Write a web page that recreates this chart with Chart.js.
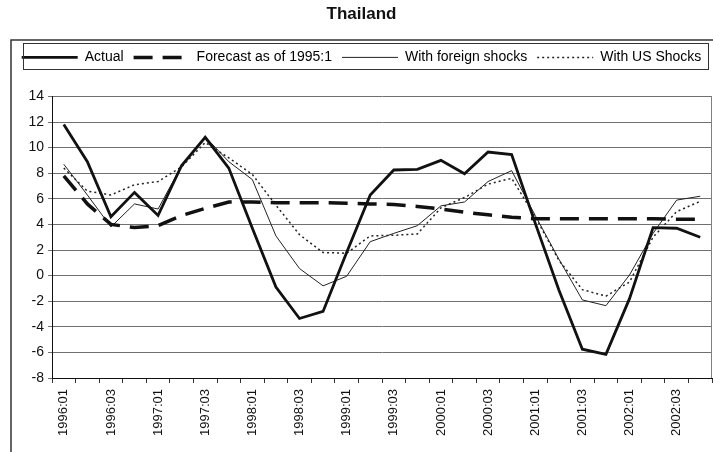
<!DOCTYPE html>
<html>
<head>
<meta charset="utf-8">
<script src="https://cdn.jsdelivr.net/npm/chart.js@4.4.1/dist/chart.umd.min.js"></script>
<style>
body { margin: 0; background: #fff; }
#wrap { width: 713px; height: 452px; position: relative; }
</style>
</head>
<body>
<div id="wrap"><canvas id="myChart"></canvas></div>
<script>
// quarters 1996:01 -> 2002:04
const quarters = [
    "1996:01", "1996:02", "1996:03", "1996:04",
    "1997:01", "1997:02", "1997:03", "1997:04",
    "1998:01", "1998:02", "1998:03", "1998:04",
    "1999:01", "1999:02", "1999:03", "1999:04",
    "2000:01", "2000:02", "2000:03", "2000:04",
    "2001:01", "2001:02", "2001:03", "2001:04",
    "2002:01", "2002:02", "2002:03", "2002:04"
];

const actual = [11.8, 8.9, 4.6, 6.5, 4.7, 8.6, 10.8, 8.4, 3.7, -0.9, -3.35, -2.8, 1.8, 6.3,
    8.25, 8.3, 9.0, 7.95, 9.65, 9.45, 4.1, -1.1, -5.75, -6.15, -1.8, 3.75, 3.7, 3.0];
const forecast = [7.8, 5.6, 4.0, 3.75, 3.9, 4.7, 5.25, 5.75, 5.75, 5.7, 5.7, 5.7, 5.65, 5.6,
    5.55, 5.4, 5.2, 4.95, 4.75, 4.55, 4.45, 4.45, 4.45, 4.45, 4.45, 4.45, 4.4, 4.4];
const foreignShocks = [8.7, 6.3, 3.8, 5.6, 5.2, 8.6, 10.85, 8.9, 7.5, 3.1, 0.55, -0.8, -0.05, 2.65,
    3.3, 3.9, 5.45, 5.75, 7.35, 8.2, 4.7, 1.3, -1.9, -2.35, 0.05, 3.3, 5.9, 6.2];
const usShocks = [8.4, 6.6, 6.3, 7.1, 7.35, 8.5, 10.4, 9.2, 7.9, 5.5, 3.2, 1.8, 1.75, 3.1,
    3.15, 3.25, 5.3, 6.1, 7.15, 7.6, 4.6, 1.2, -1.1, -1.6, -0.5, 3.0, 5.0, 5.8];

const seriesNames = ["Actual", "Forecast as of 1995:1", "With foreign shocks", "With US Shocks"];

Chart.defaults.font.family = "'Liberation Sans', Arial, sans-serif";
Chart.defaults.color = "#222";

// legend box, plot border, outer frame
const frame = {
    id: "frame",
    beforeInit(chart) {
        const fit = chart.legend.fit;
        chart.legend.fit = function () {
            fit.call(this);
            this.height += 22;
        };
    },
    afterDraw(chart) {
        const ctx = chart.ctx;
        const a = chart.chartArea;
        ctx.save();
        ctx.strokeStyle = "#808080";
        ctx.lineWidth = 1;
        ctx.beginPath();
        ctx.moveTo(a.right - 0.5, a.top);
        ctx.lineTo(a.right - 0.5, a.bottom);
        ctx.stroke();
        ctx.strokeStyle = "#333";
        ctx.strokeRect(23.5, 43.5, 685, 26);
        ctx.lineWidth = 1.5;
        ctx.beginPath();
        ctx.moveTo(11, 452);
        ctx.lineTo(11, 40);
        ctx.lineTo(713, 40);
        ctx.stroke();
        ctx.restore();
    }
};

new Chart("myChart", {
    type: "line",
    data: {
        labels: quarters,
        datasets: [
            { label: seriesNames[0], data: actual, borderColor: "#111", borderWidth: 2.8 },
            { label: seriesNames[1], data: forecast, borderColor: "#111", borderWidth: 3.5, borderDash: [19, 10] },
            { label: seriesNames[2], data: foreignShocks, borderColor: "#222", borderWidth: 1 },
            { label: seriesNames[3], data: usShocks, borderColor: "#222", borderWidth: 1.5, borderDash: [2, 3] }
        ]
    },
    options: {
        responsive: true,
        maintainAspectRatio: false,
        animation: false,
        elements: { point: { radius: 0 }, line: { tension: 0, fill: false } },
        layout: { padding: { left: 11, right: 1, top: 0, bottom: 0 } },
        plugins: {
            title: {
                display: true,
                text: "Thailand",
                font: { size: 17, weight: "bold" },
                color: "#111",
                padding: { top: 4, bottom: 16 }
            },
            legend: {
                display: true,
                position: "top",
                labels: {
                    font: { size: 14 },
                    color: "#111",
                    padding: 10,
                    usePointStyle: true,
                    pointStyleWidth: 56,
                    boxWidth: 56,
                    generateLabels: chart => chart.data.datasets.map((ds, i) => ({
                        text: ds.label,
                        strokeStyle: ds.borderColor,
                        fillStyle: ds.borderColor,
                        lineWidth: ds.borderWidth,
                        lineDash: ds.borderDash || [],
                        pointStyle: "line",
                        datasetIndex: i,
                        hidden: false
                    }))
                }
            },
            tooltip: { enabled: false }
        },
        scales: {
            x: {
                offset: true,
                grid: { offset: true, drawOnChartArea: false, drawTicks: true, tickLength: 5, color: "#333" },
                border: { display: true, color: "#111", width: 1 },
                ticks: {
                    autoSkip: false,
                    maxRotation: 90,
                    minRotation: 90,
                    padding: 6,
                    font: { size: 13 },
                    color: "#111",
                    callback: (v, i) => (i % 2 === 0 ? quarters[i] : "")
                },
                afterFit: scale => {
                    scale.height = 74;
                    scale.paddingRight = 0;
                    scale.paddingLeft = 0;
                }
            },
            y: {
                min: -8,
                max: 14,
                ticks: { stepSize: 2, padding: 4, font: { size: 14 }, color: "#111" },
                grid: { color: "#707070", lineWidth: 1, tickLength: 4 },
                border: { display: true, color: "#111", width: 1 },
                afterFit: scale => { scale.width = 41; }
            }
        }
    },
    plugins: [frame]
});
</script>
</body>
</html>
